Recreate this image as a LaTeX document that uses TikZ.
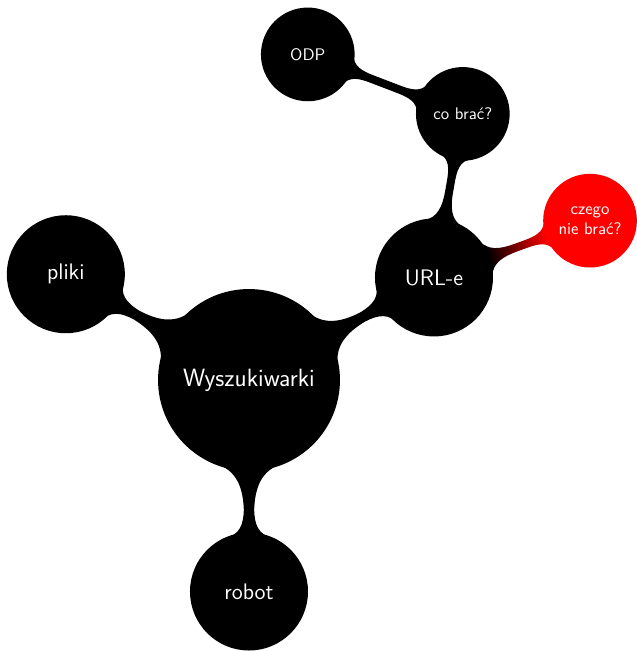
\documentclass[tikz,border=0pt]{standalone}
\usetikzlibrary{mindmap}

\begin{document}
\begin{tikzpicture}[mindmap, concept color=black, text=white,
    level 1/.append style={level distance=4.7cm},
    level 2/.append style={level distance=3.69cm},
    level 3/.append style={level distance=3.69cm},
    bigconcept/.style={concept, minimum size=4cm, text width=3.6cm, align=center, font=\sffamily\fontsize{15.8}{19}\selectfont},
    midconcept/.style={concept, minimum size=2.58cm, text width=2.3cm, align=center, font=\sffamily\fontsize{14.2}{17}\selectfont},
    smallconcept/.style={concept, minimum size=2.04cm, text width=1.8cm, align=center, font=\sffamily\fontsize{10.6}{12.5}\selectfont}]
    \useasboundingbox (-5.533,-6.022) rectangle (8.6,8.444);
    \node[bigconcept] (wysz) at (0,0) {Wyszukiwarki}
        child[grow=150.2]{ node[midconcept] (pliki) {pliki}}
        child[grow=29.7]{ node[midconcept] (urle) {URL-e}
            child[grow=80.3]{ node[smallconcept] (cobrac) {co brać?}
                child[grow=159.9]{ node[smallconcept] (odp) {ODP}}}
            child[grow=20.2, concept color=red]{ node[smallconcept] (czego) {czego\\nie brać?}}}
        child[grow=-90]{ node[midconcept] (robot) {robot}};
\end{tikzpicture}
\end{document}
